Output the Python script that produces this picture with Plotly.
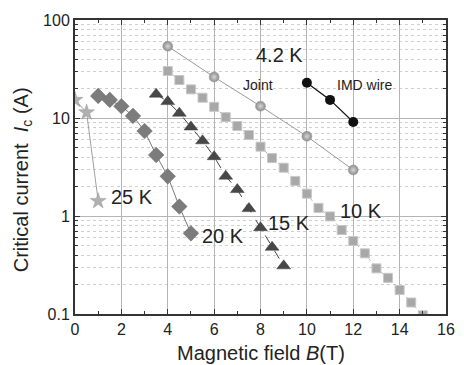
import math
import plotly.graph_objects as go

# Critical current vs. magnetic field at several temperatures
b_25k = [0, 0.5, 1.0]
ic_25k = [15.3, 11.4, 1.42]

b_20k = [1.0, 1.5, 2.0, 2.5, 3.0, 3.5, 4.0, 4.5, 5.0]
ic_20k = [16.8, 15.3, 13.2, 10.5, 7.36, 4.19, 2.54, 1.25, 0.665]

b_15k = [3.5, 4.0, 4.5, 5.0, 5.5, 6.0, 6.5, 7.0, 7.5, 8.0, 8.5, 9.0]
ic_15k = [17.5, 14.7, 11.2, 8.1, 5.85, 4.03, 2.55, 1.86, 1.19, 0.76, 0.48, 0.31]

b_10k = [4.0, 4.5, 5.0, 5.5, 6.0, 6.5, 7.0, 7.5, 8.0, 8.5, 9.0, 9.5,
         10.0, 10.5, 11.0, 11.5, 12.0, 12.5, 13.0, 13.5, 14.0, 14.5, 15.0]
ic_10k = [30.2, 24.4, 19.6, 16.1, 13.0, 10.2, 8.28, 6.7, 5.1, 3.9, 3.11, 2.28,
          1.69, 1.21, 0.99, 0.72, 0.556, 0.416, 0.292, 0.234, 0.176, 0.131, 0.097]

b_joint = [4, 6, 8, 10, 12]
ic_joint = [54, 26.2, 13.2, 6.5, 2.95]

b_wire = [10, 11, 12]
ic_wire = [22.9, 15.3, 9.1]

x_ticks = [0, 2, 4, 6, 8, 10, 12, 14, 16]
y_ticks = [0.1, 1, 10, 100]
y_minor = [m * 10 ** e for e in (-1, 0, 1) for m in range(2, 10)]

x_title = "Magnetic field <i>B</i>(T)"
y_title = "Critical current  <i>I</i><sub>c</sub> (A)"

# text, B position, Ic position, font size
labels = [
    ("4.2 K", 8.8, 44, 20),
    ("Joint", 7.9, 21.7, 14),
    ("IMD wire", 12.5, 21.7, 14),
    ("25 K", 2.45, 1.56, 20),
    ("20 K", 6.4, 0.625, 20),
    ("15 K", 9.25, 0.85, 20),
    ("10 K", 12.35, 1.12, 20),
]

FONT = "Liberation Sans, Arial, sans-serif"
W, H = 464, 365
ML, MR, MT, MB = 75, 9, 20, 51
PW, PH = W - ML - MR, H - MT - MB

fig = go.Figure()

fig.add_trace(go.Scatter(
    x=b_25k, y=ic_25k, mode="lines+markers",
    line=dict(color="#a0a0a0", width=1),
    marker=dict(symbol="star", size=12, color="#b0b0b0",
                line=dict(color="#9a9a9a", width=0.5)),
))
fig.add_trace(go.Scatter(
    x=b_20k, y=ic_20k, mode="lines+markers",
    line=dict(color="#7a7a7a", width=1),
    marker=dict(symbol="diamond", size=12, color="#7c7c7c",
                line=dict(color="#6a6a6a", width=0.5)),
))
fig.add_trace(go.Scatter(
    x=b_15k, y=ic_15k, mode="lines+markers",
    line=dict(color="#444444", width=1, dash="dash"),
    marker=dict(symbol="triangle-up", size=12, color="#474747",
                line=dict(color="#3a3a3a", width=0.5)),
))
fig.add_trace(go.Scatter(
    x=b_10k, y=ic_10k, mode="lines+markers",
    line=dict(color="#b4b4b4", width=1, dash="dot"),
    marker=dict(symbol="square", size=9, color="#a8a8a8",
                line=dict(color="#c8c8c8", width=1)),
))
fig.add_trace(go.Scatter(
    x=b_joint, y=ic_joint, mode="lines+markers",
    line=dict(color="#9a9a9a", width=1),
    marker=dict(symbol="circle", size=10, color="#8c8c8c",
                gradient=dict(type="radial", color="#d6d6d6"),
                line=dict(color="#9a9a9a", width=0.5)),
))
fig.add_trace(go.Scatter(
    x=b_wire, y=ic_wire, mode="lines+markers",
    line=dict(color="#111111", width=1.2),
    marker=dict(symbol="circle", size=10, color="#111111"),
))

# annotations on a log axis take log10 positions
for text, x, y, size in labels:
    fig.add_annotation(x=x, y=math.log10(y), xref="x", yref="y", text=text,
                       showarrow=False,
                       font=dict(size=size, color="#222222", family=FONT))

tick_font = dict(family=FONT, size=16, color="#222222")
title_font = dict(family=FONT, size=20, color="#222222")

# axis titles as paper-anchored annotations (centre given in pixels)
fig.add_annotation(xref="paper", yref="paper", x=0.5,
                   y=-(353 - (H - MB)) / PH,
                   text=x_title, showarrow=False, font=title_font,
                   xanchor="center", yanchor="middle")
fig.add_annotation(xref="paper", yref="paper", x=-(ML - 22) / PW,
                   y=(H - MB - 180) / PH, text=y_title, showarrow=False,
                   font=title_font, textangle=-90,
                   xanchor="center", yanchor="middle")

fig.update_layout(
    width=W, height=H,
    margin=dict(l=ML, r=MR, t=MT, b=MB),
    paper_bgcolor="white", plot_bgcolor="white",
    showlegend=False,
    font=tick_font,
)

fig.update_xaxes(
    range=[0, 16], tickvals=x_ticks, ticks="inside", ticklen=5, tickwidth=1.2,
    tickcolor="#333333", showline=True, linecolor="#333333", linewidth=2,
    mirror="ticks", showgrid=True, gridcolor="#b4b4b4", gridwidth=1,
    zeroline=False, tickfont=tick_font,
    minor=dict(dtick=1, tick0=0, ticks="inside", ticklen=3, tickcolor="#333333",
               showgrid=False),
)
fig.update_yaxes(
    type="log", range=[-1, 2], tickvals=y_ticks, ticktext=["0.1", "1", "10", "100"],
    ticks="inside", ticklen=5, tickwidth=1.2, tickcolor="#333333",
    showline=True, linecolor="#333333", linewidth=2, mirror="ticks",
    showgrid=True, gridcolor="#b4b4b4", gridwidth=1, zeroline=False,
    tickfont=tick_font,
    minor=dict(tickvals=y_minor, ticks="inside", ticklen=3, tickcolor="#333333",
               showgrid=True, gridcolor="#cfcfcf", griddash="dot", gridwidth=1),
)

fig.write_html("out.html")
